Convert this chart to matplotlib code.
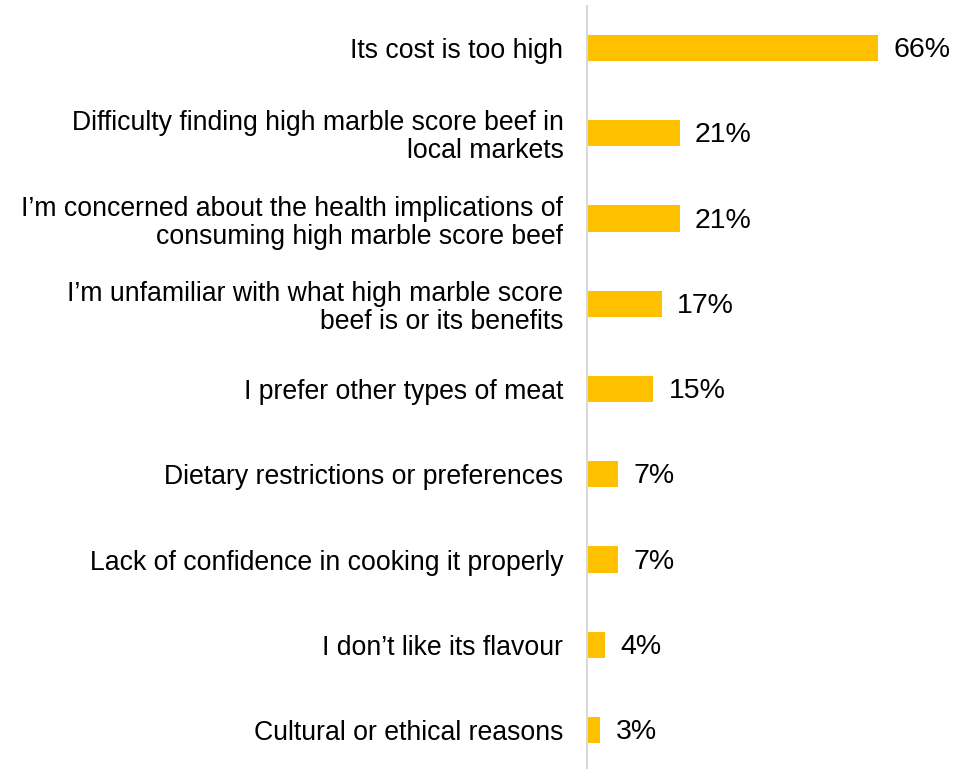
import matplotlib
matplotlib.use("Agg")
import matplotlib.pyplot as plt

plt.rcParams['font.family'] = ['Liberation Sans', 'DejaVu Sans']

categories = [
    "Its cost is too high",
    "Difficulty finding high marble score beef in\nlocal markets",
    "I\u2019m concerned about the health implications of\nconsuming high marble score beef",
    "I\u2019m unfamiliar with what high marble score\nbeef is or its benefits",
    "I prefer other types of meat",
    "Dietary restrictions or preferences",
    "Lack of confidence in cooking it properly",
    "I don\u2019t like its flavour",
    "Cultural or ethical reasons",
]
values = [66, 21, 21, 17, 15, 7, 7, 4, 3]

W, H = 968, 769
fig = plt.figure(figsize=(W / 100, H / 100), dpi=100)
ax = fig.add_axes([587 / W, 0, (958 - 587) / W, (769 - 6) / H])

pos = list(range(len(categories)))
ax.barh(pos, values, height=0.31, color="#FFC000", zorder=2)

ax.set_xlim(0, 84.1)
ax.set_ylim(8.457, -0.493)

ax.set_yticks(pos)
ax.set_yticklabels(categories, fontsize=19.2, color="#000000", linespacing=1.1)
ax.tick_params(axis="y", length=0, pad=17)
ax.set_xticks([])

for s in ["top", "right", "bottom"]:
    ax.spines[s].set_visible(False)
ax.spines["left"].set_color("#D9D9D9")
ax.spines["left"].set_linewidth(1.5)

for p, v in zip(pos, values):
    ax.annotate(f"{v}%", xy=(v, p), xytext=(11, -1.5), textcoords="offset points",
                va="center", ha="left", fontsize=20.5, color="#000000")

fig.savefig("out.png", dpi=100)
